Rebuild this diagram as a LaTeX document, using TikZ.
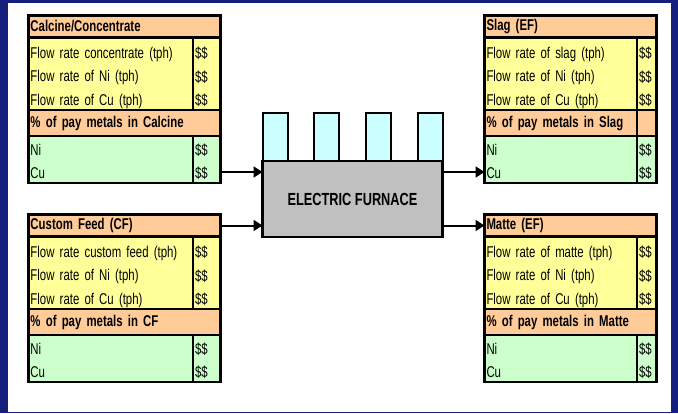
\documentclass[tikz,border=0pt]{standalone}
\usepackage{fontspec}
\setmainfont{Liberation Sans}
\newfontfamily\celltext{Liberation Sans}[FakeStretch=0.73]
\newfontfamily\headtext{Liberation Sans Bold}[FakeStretch=0.73]
\usepackage{tikz}
\usetikzlibrary{positioning,arrows.meta}

\definecolor{framenavy}{RGB}{20,30,125}
\definecolor{headpeach}{RGB}{255,204,153}
\definecolor{flowyellow}{RGB}{255,255,153}
\definecolor{metalgreen}{RGB}{204,255,204}
\definecolor{furnacegrey}{RGB}{192,192,192}
\definecolor{chimneycyan}{RGB}{204,255,255}

\begin{document}
\begin{tikzpicture}[x=1pt, y=-1pt,
  cell/.style={draw, line width=2.5pt, outer sep=0pt, inner xsep=2pt, inner ysep=0pt, align=left, font=\fontsize{15.6}{23.5}\selectfont\celltext},
  headcell/.style={cell, fill=headpeach, minimum height=22pt, font=\fontsize{15.6}{23.5}\selectfont\headtext},
  paycell/.style={headcell, minimum height=26pt},
  flowcell/.style={cell, fill=flowyellow, minimum height=72.5pt,
    execute at begin node={\rule{0pt}{19.5pt}}, execute at end node={\rule[-3pt]{0pt}{3pt}}},
  metalcell/.style={cell, fill=metalgreen, minimum height=47pt,
    execute at begin node={\rule{0pt}{18.5pt}}, execute at end node={\rule[-4pt]{0pt}{4pt}}},
  chimney/.style={draw, line width=2pt, outer sep=0pt, inner sep=0pt, fill=chimneycyan, minimum width=25pt, minimum height=48pt},
  flowarrow/.style={line width=2pt, -{Triangle[length=9pt,width=11pt]}}]
% Frame
\useasboundingbox (0,0) rectangle (678,413);
\fill [framenavy] (0,0) rectangle (678,413);
\fill [white] (7.5,3) rectangle (671,411.5);

% Calcine/Concentrate
\node [headcell, text width=188pt, anchor=north west] (calcinehead) at (28.5,15.5) {Calcine/Concentrate};
\node [flowcell, text width=160.5pt] [below right=0pt and 0pt of calcinehead.south west]
	(calcineflow) {Flow rate concentrate (tph)\\Flow rate of Ni (tph)\\Flow rate of Cu (tph)};
\node [flowcell, text width=23.5pt] [right=0pt of calcineflow] (calcineflowval) {\$\$\\\$\$\\\$\$};
\node [paycell, text width=188pt] [below right=0pt and 0pt of calcineflow.south west]
	(calcinepay) {\% of pay metals in Calcine};
\node [metalcell, text width=160.5pt] [below right=0pt and 0pt of calcinepay.south west] (calcinemetal) {Ni\\Cu};
\node [metalcell, text width=23.5pt] [right=0pt of calcinemetal] (calcinemetalval) {\$\$\\\$\$};

% Custom feed
\node [headcell, text width=188pt, anchor=north west] (feedhead) at (28.5,214.5) {Custom Feed (CF)};
\node [flowcell, text width=160.5pt] [below right=0pt and 0pt of feedhead.south west]
	(feedflow) {Flow rate custom feed (tph)\\Flow rate of Ni (tph)\\Flow rate of Cu (tph)};
\node [flowcell, text width=23.5pt] [right=0pt of feedflow] (feedflowval) {\$\$\\\$\$\\\$\$};
\node [paycell, text width=188pt] [below right=0pt and 0pt of feedflow.south west]
	(feedpay) {\% of pay metals in CF};
\node [metalcell, text width=160.5pt] [below right=0pt and 0pt of feedpay.south west] (feedmetal) {Ni\\Cu};
\node [metalcell, text width=23.5pt] [right=0pt of feedmetal] (feedmetalval) {\$\$\\\$\$};

% Slag
\node [headcell, text width=168pt, anchor=north west] (slaghead) at (484.5,15.5) {Slag (EF)};
\node [flowcell, text width=148.5pt] [below right=0pt and 0pt of slaghead.south west]
	(slagflow) {Flow rate of slag (tph)\\Flow rate of Ni (tph)\\Flow rate of Cu (tph)};
\node [flowcell, text width=15.5pt] [right=0pt of slagflow] (slagflowval) {\$\$\\\$\$\\\$\$};
\node [paycell, text width=148.5pt] [below right=0pt and 0pt of slagflow.south west]
	(slagpay) {\% of pay metals in Slag};
\node [paycell, text width=15.5pt] [right=0pt of slagpay] (slagpayval) {};
\node [metalcell, text width=148.5pt] [below right=0pt and 0pt of slagpay.south west] (slagmetal) {Ni\\Cu};
\node [metalcell, text width=15.5pt] [right=0pt of slagmetal] (slagmetalval) {\$\$\\\$\$};

% Matte
\node [headcell, text width=168pt, anchor=north west] (mattehead) at (484.5,214.5) {Matte (EF)};
\node [flowcell, text width=148.5pt] [below right=0pt and 0pt of mattehead.south west]
	(matteflow) {Flow rate of matte (tph)\\Flow rate of Ni (tph)\\Flow rate of Cu (tph)};
\node [flowcell, text width=15.5pt] [right=0pt of matteflow] (matteflowval) {\$\$\\\$\$\\\$\$};
\node [paycell, text width=168pt] [below right=0pt and 0pt of matteflow.south west]
	(mattepay) {\% of pay metals in Matte};
\node [metalcell, text width=148.5pt] [below right=0pt and 0pt of mattepay.south west] (mattemetal) {Ni\\Cu};
\node [metalcell, text width=15.5pt] [right=0pt of mattemetal] (mattemetalval) {\$\$\\\$\$};

% Furnace
\coordinate (furnacecentre) at (352.5,199);
\node [minimum width=180pt, minimum height=76pt, outer sep=0pt] (furnacebox) at (furnacecentre) {};
\node [chimney] [above right=0pt and 0pt of furnacebox.north west] (chimney1) {};
\node [chimney] [right=26.7pt of chimney1] (chimney2) {};
\node [chimney] [right=26.7pt of chimney2] (chimney3) {};
\node [chimney] [above left=0pt and 0pt of furnacebox.north east] (chimney4) {};
\node [draw, line width=2.5pt, outer sep=0pt, fill=furnacegrey, minimum width=180pt, minimum height=76pt,
	font=\fontsize{17.5}{20}\selectfont\headtext] (furnace) at (furnacecentre) {ELECTRIC FURNACE};

% Connections
\coordinate (calcineout) at ([yshift=-12.5pt]calcinemetalval.east);
\draw [flowarrow] (calcineout) -- (calcineout -| furnace.west);
\draw [flowarrow] (feedhead.east) -- (feedhead.east -| furnace.west);
\draw [flowarrow] (calcineout -| furnace.east) -- (calcineout -| slagmetal.west);
\draw [flowarrow] (mattehead.west -| furnace.east) -- (mattehead.west);
\end{tikzpicture}
\end{document}
